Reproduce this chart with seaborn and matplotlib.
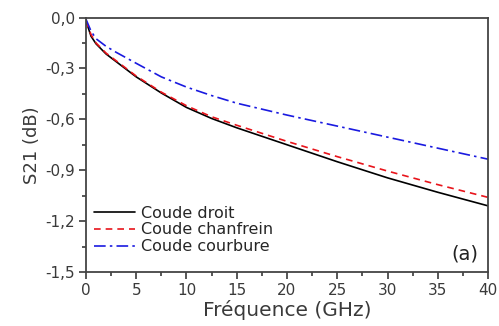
import numpy as np
import pandas as pd
import matplotlib
matplotlib.use("Agg")
import matplotlib.pyplot as plt
import seaborn as sns
from matplotlib.ticker import MultipleLocator, FuncFormatter

# Données (GHz, dB)
freq = [0, 0.5, 1, 2, 3, 5, 7.5, 10, 12.5, 15, 20, 25, 30, 35, 40]
s21_droit = [-0.02, -0.11, -0.155, -0.215, -0.26, -0.35, -0.445, -0.53, -0.595,
             -0.65, -0.75, -0.85, -0.945, -1.03, -1.11]
s21_chanfrein = [-0.02, -0.10, -0.15, -0.21, -0.255, -0.345, -0.44, -0.52, -0.585,
                 -0.635, -0.73, -0.82, -0.905, -0.985, -1.06]
s21_courbure = [-0.01, -0.08, -0.125, -0.17, -0.205, -0.27, -0.35, -0.41, -0.46,
                -0.505, -0.575, -0.64, -0.705, -0.77, -0.835]
noms = ["Coude droit", "Coude chanfrein", "Coude courbure"]

df = pd.concat([
    pd.DataFrame({"f": freq, "s21": s21_droit, "coude": noms[0]}),
    pd.DataFrame({"f": freq, "s21": s21_chanfrein, "coude": noms[1]}),
    pd.DataFrame({"f": freq, "s21": s21_courbure, "coude": noms[2]}),
])

sns.set_style("white")
plt.rcParams["font.family"] = ["DejaVu Sans"]

fig = plt.figure(figsize=(4.99, 3.26), dpi=100)
ax = fig.add_axes([0.1723, 0.1656, 0.8057, 0.7807])

couleurs = {noms[0]: "black", noms[1]: "#e8141b", noms[2]: "#1a1ae0"}
tirets = {noms[0]: "", noms[1]: (4, 3), noms[2]: (7, 2.5, 1.5, 2.5)}
sns.lineplot(data=df, x="f", y="s21", hue="coude", style="coude",
             palette=couleurs, dashes=tirets, linewidth=1.2, ax=ax)

ax.set_xlim(0, 40)
ax.set_ylim(-1.5, 0)
ax.xaxis.set_major_locator(MultipleLocator(5))
ax.xaxis.set_minor_locator(MultipleLocator(2.5))
ax.yaxis.set_major_locator(MultipleLocator(0.3))
ax.yaxis.set_minor_locator(MultipleLocator(0.15))
ax.yaxis.set_major_formatter(FuncFormatter(lambda v, p: f"{v:.1f}".replace(".", ",").replace("-0,0", "0,0")))
ax.xaxis.set_major_formatter(FuncFormatter(lambda v, p: f"{v:.0f}"))

gris = "#3a3a3a"
ax.tick_params(which="both", direction="out", colors=gris, width=1.2,
               labelsize=11, bottom=True, left=True, top=False, right=False)
ax.tick_params(which="major", length=5, pad=3)
ax.tick_params(which="minor", length=3)
for sp in ax.spines.values():
    sp.set_color("#444444")
    sp.set_linewidth(1.3)

ax.set_xlabel("Fréquence (GHz)", fontsize=14.5, color=gris, labelpad=1)
ax.set_ylabel("S21 (dB)", fontsize=13, color=gris, labelpad=3)

ax.legend(loc="lower left", frameon=False, fontsize=11.5, handlelength=2.6,
          handletextpad=0.35, labelspacing=0.12, borderaxespad=0.1,
          bbox_to_anchor=(0.0, 0.038))
ax.text(0.975, 0.035, "(a)", transform=ax.transAxes, ha="right", va="bottom",
        fontsize=14, color="#222222")

fig.savefig("out.png", dpi=100)
